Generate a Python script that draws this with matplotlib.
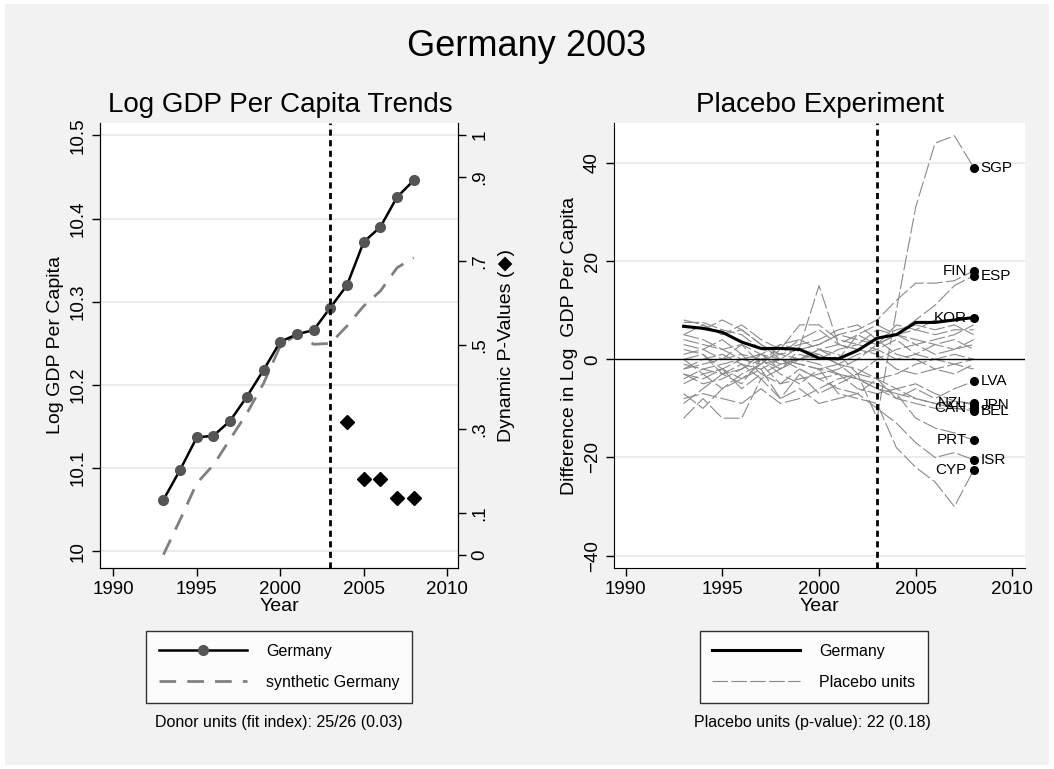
import numpy as np
import matplotlib
matplotlib.use("Agg")
import matplotlib.pyplot as plt
from matplotlib.patches import Rectangle

plt.rcParams['font.family'] = ['Liberation Sans', 'DejaVu Sans']

years = list(range(1993, 2009))

# log GDP per capita, Germany vs synthetic
germany = [10.062, 10.098, 10.137, 10.139, 10.157, 10.186, 10.218, 10.252,
           10.261, 10.266, 10.293, 10.320, 10.372, 10.390, 10.426, 10.446]
synthetic = [9.996, 10.038, 10.082, 10.104, 10.135, 10.166, 10.202, 10.247,
             10.261, 10.249, 10.250, 10.271, 10.295, 10.313, 10.341, 10.353]

pval_years = [2004, 2005, 2006, 2007, 2008]
pvals = [0.317, 0.18, 0.18, 0.135, 0.135]

# placebo gaps (x100)
germany_gap = [6.7, 6.3, 5.5, 3.5, 2.2, 2.2, 2.0, 0.2, 0.1, 1.8, 4.3, 5.0, 7.5, 7.5, 8.0, 8.5]

placebo_names = ['SGP', 'FIN', 'ESP', 'KOR', 'LVA', 'NZL', 'JPN', 'CAN', 'BEL', 'PRT', 'ISR', 'CYP',
                 '', '', '', '', '', '', '', '', '', '']
placebo_gaps = [
    [-2, -1, 0, 1, -3, -1, 0, 2, 1, -3, -12, 10, 31, 44, 45.5, 39],
    [3, 2, 4, 1, 0, -2, 2, 3, 5, 6, 8, 12, 15.5, 15.5, 16, 18],
    [-4, -2, -1, 0, 1, -1, 0, 2, 3, 5, 7, 5, 8, 11, 15, 17],
    [8, 7, 5, 6, 3, 1, 4, 2, 0, 5, 3, 7, 6, 8, 8, 8.5],
    [-12, -8, -12, -12, -4, -8, -3, -7, -5, -3, -4, -8, -6, -8, -6, -4.5],
    [0, -3, -2, -4, -1, 0, -2, -4, -3, -6, -7, -6, -8, -9, -8.5, -9],
    [2, 1, -2, 0, 1, 3, 2, 1, -1, -2, -4, -6, -5, -7, -8.5, -9.3],
    [-3, -5, -4, -2, 0, 1, 0, -1, -3, -4, -5, -7, -8, -9, -10, -10],
    [-1, -2, -3, -1, -2, 0, -1, -2, -1, -4, -6, -8, -9, -10, -10, -10.5],
    [5, 4, 2, 3, 1, 0, -1, -2, -3, -4, -6, -7, -12, -14, -15, -16.5],
    [-7, -10, -6, -4, -2, -8, -6, -9, -8, -7, -10, -13, -17, -20, -19, -20.5],
    [-9, -6, -3, -5, 0, -3, -5, -2, -7, -8, -9, -18, -22, -25, -30, -22.5],
    [7.5, 7.5, 6, 5, 2, 1, 2, 3, 5, 4, 3, 5, 6, 5, 6, 6],
    [7, 6, 8, 6, 3, 0, 2.5, 15, 3, 2, 4, 6, 7, 6, 7, 5],
    [5, 7, 5, 7, 4, 2, 7, 7, 4, 3, 6, 5, 4, 3, 2, 4],
    [-2, 0, 1, -1, -4, -2, 1, 0, 2, 3, 2, 0, 1, 3, 4, 2],
    [0, 1, -3, -2, 1, -2, 0, 1, -1, 1, 2, 4, 1, 0, 1, 0],
    [-3, -4, -2, -6, -3, -5, -2, -4, -6, -7, -4, -3, -1, 0, -1, -2],
    [-8, -7, -8, -9, -6, -9, -8, -6, -4, -3, 0, 2, 3, 1, 2, 3],
    [1, 2, 0, 3, -1, 2, 3, 4, 6, 7, 4, 1, 0, -2, -1, 0],
    [4, 3, 2, 0, -1, 3, 4, 6, 3, 2, 1, -2, -3, -2, -3, -1],
    [-5, -3, -6, -3, -1, -5, -4, -3, -2, 0, 3, 5, 3, 4, 5, 7],
]
label_side = {'SGP': 'r', 'FIN': 'l', 'ESP': 'r', 'KOR': 'l', 'LVA': 'r', 'NZL': 'l',
              'JPN': 'r', 'CAN': 'l', 'BEL': 'r', 'PRT': 'l', 'ISR': 'r', 'CYP': 'l'}

fig = plt.figure(figsize=(10.54, 7.69), dpi=100)
fig.patch.set_facecolor('white')
fig.patches.append(Rectangle((5 / 1054, 4 / 769), 1044 / 1054, 761 / 769, transform=fig.transFigure,
                             facecolor='#f2f2f2', edgecolor='none', zorder=-10))

grid_c = '#e8e8e8'
tick_fs = 13.5


def style_axes(ax):
    ax.set_facecolor('white')
    ax.spines['top'].set_visible(False)
    ax.spines['right'].set_visible(False)
    ax.tick_params(axis='both', direction='out', length=6, width=1, labelsize=tick_fs)
    for lab in ax.get_yticklabels():
        lab.set_rotation(90)
        lab.set_va('center')


# ---------- left panel ----------
ax = fig.add_axes([100 / 1054, 1 - 568 / 769, 358 / 1054, 445 / 769])
ax.set_xlim(1989.2, 2010.65)
ax.set_ylim(9.98, 10.515)
ax.set_xticks([1990, 1995, 2000, 2005, 2010])
ax.set_yticks([10.0, 10.1, 10.2, 10.3, 10.4, 10.5])
ax.set_yticklabels(['10', '10.1', '10.2', '10.3', '10.4', '10.5'])
for yv in ax.get_yticks():
    ax.axhline(yv, color=grid_c, lw=1.2, zorder=0)
ax.plot(years, synthetic, color='#808080', lw=2, dashes=(6, 4), zorder=2, label='synthetic Germany')
ax.plot(years, germany, color='black', lw=1.8, marker='o', ms=7, mfc='#555555', mec='#555555',
        zorder=3, label='Germany')
ax.axvline(2003, color='black', lw=2, dashes=(2.2, 1.6), zorder=4)
style_axes(ax)
ax.spines['right'].set_visible(True)
ax.set_xlabel('Year', fontsize=14, labelpad=0)
ax.set_ylabel('Log GDP Per Capita', fontsize=14, labelpad=4)

ax2 = ax.twinx()
ax2.set_ylim(-0.031, 1.0286)
ax2.set_yticks([0, 0.1, 0.3, 0.5, 0.7, 0.9, 1])
ax2.set_yticklabels(['0', '.1', '.3', '.5', '.7', '.9', '1'])
ax2.plot(pval_years, pvals, 'D', color='black', ms=7, zorder=5)
ax2.spines['top'].set_visible(False)
ax2.tick_params(axis='y', direction='out', length=6, width=1, labelsize=tick_fs)
for lab in ax2.get_yticklabels():
    lab.set_rotation(90)
    lab.set_va('center')
ax2.set_ylabel('Dynamic P-Values (\u25c6)', fontsize=14, labelpad=7, rotation=90)

h, l = ax.get_legend_handles_labels()
leg = fig.legend([h[1], h[0]], [l[1], l[0]], loc='center', bbox_to_anchor=(279 / 1054, 1 - 667 / 769),
                 fontsize=11.5, frameon=True, fancybox=False, edgecolor='black', handlelength=5.5,
                 handletextpad=1.2, borderpad=0.8, labelspacing=1.0)
leg.get_frame().set_linewidth(1)
fig.text(279 / 1054, 1 - 722 / 769, 'Donor units (fit index): 25/26 (0.03)', ha='center', va='center', fontsize=11.5)
fig.text(280 / 1054, 1 - 105 / 769, 'Log GDP Per Capita Trends', ha='center', va='center', fontsize=20)

# ---------- right panel ----------
bx = fig.add_axes([614 / 1054, 1 - 568 / 769, 411 / 1054, 445 / 769])
bx.set_xlim(1989.4, 2010.65)
bx.set_ylim(-42.5, 48.1)
bx.set_xticks([1990, 1995, 2000, 2005, 2010])
bx.set_yticks([-40, -20, 0, 20, 40])
for yv in [-40, -20, 20, 40]:
    bx.axhline(yv, color=grid_c, lw=1.2, zorder=0)
for i, gap in enumerate(placebo_gaps):
    bx.plot(years, gap, color='#8a8a8a', lw=0.8, dashes=(14, 3), zorder=1,
            label='Placebo units' if i == 0 else None)
bx.axhline(0, color='black', lw=1, zorder=2)
bx.plot(years, germany_gap, color='black', lw=2.2, zorder=3, label='Germany')
bx.axvline(2003, color='black', lw=2, dashes=(2.2, 1.6), zorder=4)
for name, gap in zip(placebo_names, placebo_gaps):
    if not name:
        continue
    bx.plot(years[-1], gap[-1], 'o', color='black', ms=5.5, zorder=5)
    if label_side[name] == 'r':
        bx.annotate(name, (years[-1], gap[-1]), xytext=(5, 0), textcoords='offset points',
                    ha='left', va='center', fontsize=11)
    else:
        bx.annotate(name, (years[-1], gap[-1]), xytext=(-5, 0), textcoords='offset points',
                    ha='right', va='center', fontsize=11)
style_axes(bx)
bx.set_xlabel('Year', fontsize=14, labelpad=0)
bx.set_ylabel('Difference in Log  GDP Per Capita', fontsize=14, labelpad=4)

h, l = bx.get_legend_handles_labels()
leg2 = fig.legend([h[1], h[0]], [l[1], l[0]], loc='center', bbox_to_anchor=(814 / 1054, 1 - 667 / 769),
                  fontsize=11.5, frameon=True, fancybox=False, edgecolor='black', handlelength=5.5,
                  handletextpad=1.2, borderpad=0.8, labelspacing=1.0)
leg2.get_frame().set_linewidth(1)
fig.text(812 / 1054, 1 - 722 / 769, 'Placebo units (p-value): 22 (0.18)', ha='center', va='center', fontsize=11.5)
fig.text(820 / 1054, 1 - 105 / 769, 'Placebo Experiment', ha='center', va='center', fontsize=20)

fig.text(0.5, 1 - 47 / 769, 'Germany 2003', ha='center', va='center', fontsize=26)

fig.savefig('out.png', dpi=100)
